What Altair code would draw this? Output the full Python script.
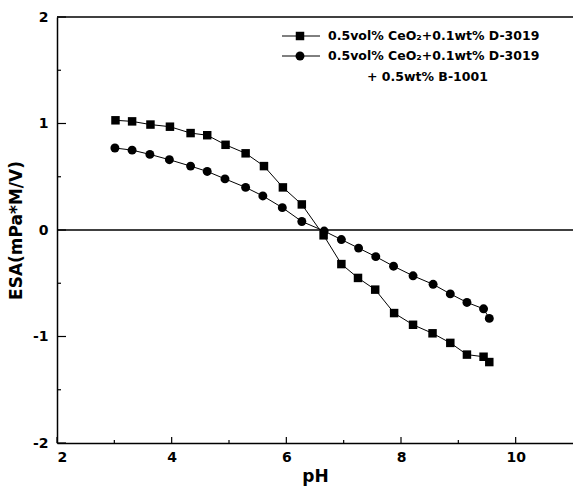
import altair as alt
import pandas as pd

# --- data ---
ph_sq = [3.02, 3.31, 3.63, 3.97, 4.33, 4.62, 4.94, 5.29, 5.61, 5.94, 6.27,
         6.65, 6.96, 7.25, 7.55, 7.88, 8.21, 8.55, 8.86, 9.15, 9.44, 9.54]
esa_sq = [1.03, 1.02, 0.99, 0.97, 0.91, 0.89, 0.80, 0.72, 0.60, 0.40, 0.24,
          -0.05, -0.32, -0.45, -0.56, -0.78, -0.89, -0.97, -1.06, -1.17, -1.19, -1.24]
ph_ci = [3.01, 3.31, 3.62, 3.96, 4.33, 4.62, 4.93, 5.29, 5.59, 5.93, 6.27,
         6.66, 6.96, 7.26, 7.56, 7.87, 8.21, 8.56, 8.86, 9.15, 9.44, 9.54]
esa_ci = [0.77, 0.75, 0.71, 0.66, 0.60, 0.55, 0.48, 0.40, 0.32, 0.21, 0.08,
          -0.01, -0.09, -0.17, -0.25, -0.34, -0.43, -0.51, -0.60, -0.68, -0.74, -0.83]

label_1 = "0.5vol% CeO\u2082+0.1wt% D-3019"
label_2a = "0.5vol% CeO\u2082+0.1wt% D-3019"
label_2b = "+ 0.5wt% B-1001"

x_domain = [2, 11]
y_domain = [-2, 2]
x_major = [2, 4, 6, 8, 10]
x_minor = [3, 5, 7, 9]
y_major = [-2, -1, 0, 1, 2]
y_minor = [-1.5, -0.5, 0.5, 1.5]

W, H = 516, 426
FONT = "DejaVu Sans"

sq = pd.DataFrame({"ph": ph_sq, "esa": esa_sq})
ci = pd.DataFrame({"ph": ph_ci, "esa": esa_ci})

xs = alt.Scale(domain=x_domain, nice=False, zero=False)
ys = alt.Scale(domain=y_domain, nice=False, zero=False)

X = alt.X("ph:Q", scale=xs,
          axis=alt.Axis(values=x_major, ticks=False, grid=False, title="pH",
                        labelExpr="toString(datum.value)",
                        labelFont=FONT, labelFontSize=14, labelFontWeight="bold",
                        labelColor="black", labelPadding=7,
                        titleFont=FONT, titleFontSize=17, titleFontWeight="bold",
                        titleColor="black", titlePadding=4,
                        domainColor="black", domainWidth=1.5))
Y = alt.Y("esa:Q", scale=ys,
          axis=alt.Axis(values=y_major, ticks=False, grid=False, title="ESA(mPa*M/V)",
                        labelExpr="toString(datum.value)",
                        labelFont=FONT, labelFontSize=14, labelFontWeight="bold",
                        labelColor="black", labelPadding=9,
                        titleFont=FONT, titleFontSize=17, titleFontWeight="bold",
                        titleColor="black", titleX=-41, titleY=H / 2,
                        titleAnchor="middle", titleBaseline="middle",
                        domainColor="black", domainWidth=1.5))

line_sq = alt.Chart(sq).mark_line(color="black", strokeWidth=1).encode(x=X, y=Y)
pts_sq = alt.Chart(sq).mark_point(shape="square", filled=True, color="black",
                                  size=72, opacity=1).encode(x="ph:Q", y="esa:Q")
line_ci = alt.Chart(ci).mark_line(color="black", strokeWidth=1).encode(x="ph:Q", y="esa:Q")
pts_ci = alt.Chart(ci).mark_point(shape="circle", filled=True, color="black",
                                  size=80, opacity=1).encode(x="ph:Q", y="esa:Q")

# zero line and top frame line
zero = alt.Chart(pd.DataFrame({"v": [0]})).mark_rule(color="black", strokeWidth=1.5).encode(
    y=alt.Y("v:Q", scale=ys), x=alt.value(0), x2=alt.value(W))
top = alt.Chart(pd.DataFrame({"v": [y_domain[1]]})).mark_rule(color="black", strokeWidth=1.5).encode(
    y=alt.Y("v:Q", scale=ys), x=alt.value(0), x2=alt.value(W))

# inward ticks
ytm = alt.Chart(pd.DataFrame({"v": y_major})).mark_rule(color="black", strokeWidth=1.2).encode(
    y=alt.Y("v:Q", scale=ys), x=alt.value(0), x2=alt.value(9))
ytn = alt.Chart(pd.DataFrame({"v": y_minor})).mark_rule(color="black", strokeWidth=1.2).encode(
    y=alt.Y("v:Q", scale=ys), x=alt.value(0), x2=alt.value(4))
xtm = alt.Chart(pd.DataFrame({"v": x_major})).mark_rule(color="black", strokeWidth=1.2).encode(
    x=alt.X("v:Q", scale=xs), y=alt.value(H), y2=alt.value(H - 6))
xtn = alt.Chart(pd.DataFrame({"v": x_minor})).mark_rule(color="black", strokeWidth=1.2).encode(
    x=alt.X("v:Q", scale=xs), y=alt.value(H), y2=alt.value(H - 3))

# legend
leg_rows = pd.DataFrame({"row": [0]})
r1y, r2y, r3y = 19, 39, 60
leg_l1 = alt.Chart(leg_rows).mark_rule(color="black", strokeWidth=1).encode(
    x=alt.value(225), x2=alt.value(263), y=alt.value(r1y))
leg_l2 = alt.Chart(leg_rows).mark_rule(color="black", strokeWidth=1).encode(
    x=alt.value(225), x2=alt.value(263), y=alt.value(r2y))
leg_p1 = alt.Chart(leg_rows).mark_point(shape="square", filled=True, color="black",
                                        size=72, opacity=1).encode(
    x=alt.value(243), y=alt.value(r1y))
leg_p2 = alt.Chart(leg_rows).mark_point(shape="circle", filled=True, color="black",
                                        size=80, opacity=1).encode(
    x=alt.value(243), y=alt.value(r2y))
txt_style = dict(font=FONT, fontSize=12.5, fontWeight="bold", color="black",
                 align="left", baseline="middle")
leg_t1 = alt.Chart(pd.DataFrame({"t": [label_1]})).mark_text(**txt_style).encode(
    text="t:N", x=alt.value(271), y=alt.value(r1y))
leg_t2 = alt.Chart(pd.DataFrame({"t": [label_2a]})).mark_text(**txt_style).encode(
    text="t:N", x=alt.value(271), y=alt.value(r2y))
leg_t3 = alt.Chart(pd.DataFrame({"t": [label_2b]})).mark_text(**txt_style).encode(
    text="t:N", x=alt.value(310), y=alt.value(r3y))

chart = alt.layer(
    line_sq, line_ci, pts_sq, pts_ci, zero, top, ytm, ytn, xtm, xtn,
    leg_l1, leg_l2, leg_p1, leg_p2, leg_t1, leg_t2, leg_t3
).properties(
    width=W, height=H,
    autosize=alt.AutoSizeParams(type="none"),
    padding={"left": 57, "top": 17, "right": 0, "bottom": 45},
    background="white",
).configure_view(stroke=None)

chart.save("out.html", embed_options={"renderer": "svg", "actions": False})
